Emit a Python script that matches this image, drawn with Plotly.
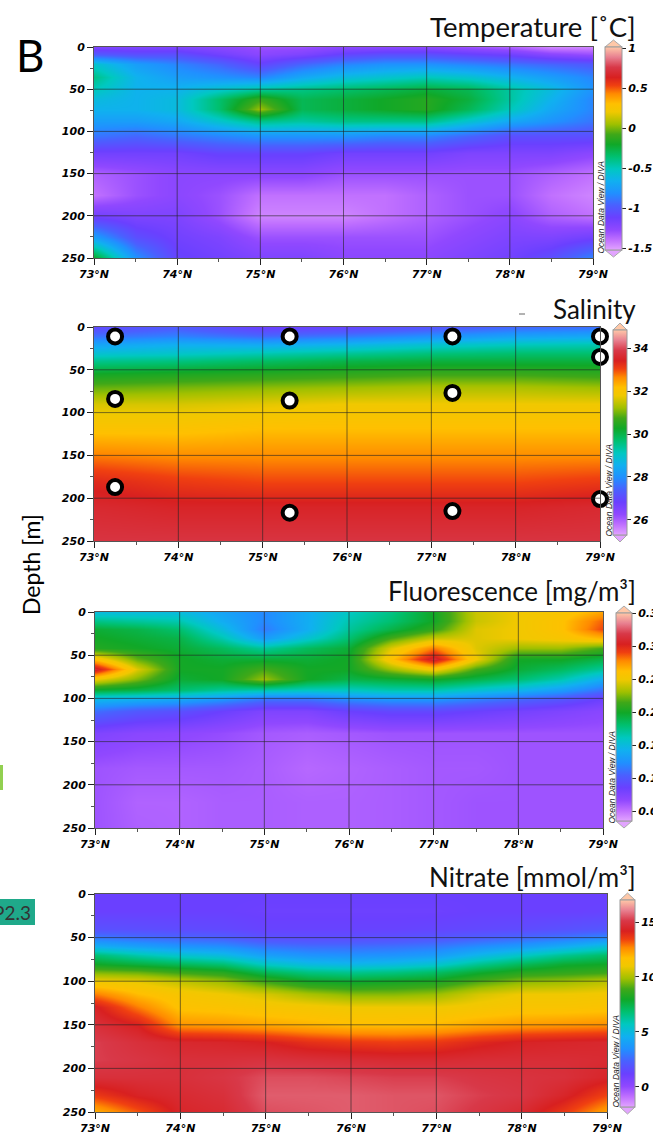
import numpy as np
import plotly.graph_objects as go

W, H = 653, 1139

# ---------------- data ----------------
lat_t = [73, 73.5, 74, 74.5, 75, 75.5, 76, 76.5, 77, 77.5, 78, 78.5, 79]
depth_t = [0, 8, 20, 35, 50, 62, 74, 88, 105, 125, 150, 175, 200, 225, 250]
temp = [
    [-1.2, -1.2, -1.2, -1.25, -1.3, -1.3, -1.25, -1.25, -1.25, -1.3, -1.35, -1.45, -1.45],
    [-1.0, -1.05, -1.05, -1.15, -1.25, -1.2, -1.1, -1.05, -1.05, -1.1, -1.15, -1.25, -1.3],
    [-0.55, -0.75, -0.85, -0.95, -1.1, -0.95, -0.85, -0.8, -0.8, -0.85, -0.9, -0.95, -1.0],
    [-0.4, -0.65, -0.75, -0.8, -0.85, -0.7, -0.6, -0.55, -0.5, -0.55, -0.65, -0.75, -0.85],
    [-0.5, -0.65, -0.65, -0.55, -0.45, -0.4, -0.35, -0.3, -0.25, -0.3, -0.45, -0.6, -0.8],
    [-0.6, -0.65, -0.6, -0.35, -0.1, -0.3, -0.25, -0.2, -0.15, -0.25, -0.45, -0.65, -0.85],
    [-0.65, -0.65, -0.6, -0.35, 0.05, -0.3, -0.25, -0.2, -0.15, -0.3, -0.5, -0.7, -0.85],
    [-0.75, -0.75, -0.7, -0.55, -0.4, -0.45, -0.4, -0.4, -0.4, -0.55, -0.7, -0.8, -0.9],
    [-0.9, -0.95, -0.9, -0.85, -0.8, -0.8, -0.8, -0.85, -0.85, -0.95, -1.05, -1.05, -1.05],
    [-1.15, -1.15, -1.15, -1.1, -1.1, -1.1, -1.15, -1.15, -1.15, -1.2, -1.2, -1.2, -1.25],
    [-1.35, -1.3, -1.25, -1.25, -1.25, -1.25, -1.3, -1.3, -1.3, -1.3, -1.3, -1.35, -1.4],
    [-1.4, -1.3, -1.25, -1.3, -1.4, -1.4, -1.4, -1.4, -1.35, -1.3, -1.3, -1.4, -1.45],
    [-1.15, -1.2, -1.2, -1.3, -1.45, -1.45, -1.45, -1.4, -1.35, -1.3, -1.25, -1.35, -1.4],
    [-0.75, -1.05, -1.15, -1.2, -1.3, -1.3, -1.3, -1.3, -1.3, -1.25, -1.2, -1.2, -1.15],
    [-0.2, -0.8, -1.1, -1.15, -1.2, -1.2, -1.25, -1.25, -1.25, -1.2, -1.15, -1.05, -0.85],
]

lat_s = [73, 74, 75, 76, 77, 78, 79]
depth_s = [0, 10, 20, 30, 40, 55, 70, 90, 120, 150, 180, 210, 250]
sal = [
    [27.0, 27.3, 26.8, 26.9, 27.2, 27.5, 27.6],
    [27.6, 27.8, 27.5, 27.7, 28.0, 28.3, 28.4],
    [28.3, 28.5, 28.4, 28.6, 28.9, 29.1, 29.2],
    [28.9, 29.0, 29.2, 29.4, 29.6, 29.7, 29.7],
    [29.5, 29.6, 29.8, 30.0, 30.1, 30.1, 30.1],
    [30.3, 30.4, 30.5, 30.6, 30.7, 30.7, 30.6],
    [30.9, 31.0, 31.1, 31.2, 31.3, 31.3, 31.2],
    [31.6, 31.6, 31.7, 31.8, 31.8, 31.8, 31.8],
    [32.1, 32.1, 32.2, 32.2, 32.2, 32.2, 32.2],
    [32.7, 32.6, 32.6, 32.6, 32.6, 32.6, 32.6],
    [33.3, 33.1, 33.0, 33.0, 33.0, 33.0, 33.1],
    [33.6, 33.5, 33.5, 33.5, 33.5, 33.5, 33.6],
    [33.8, 33.8, 33.8, 33.8, 33.8, 33.8, 33.8],
]

station_lat = [73.25, 75.32, 77.25, 79.0, 79.0, 73.25, 75.32, 77.25, 73.25, 75.32, 77.25, 79.0]
station_depth = [11, 11, 11, 11, 35, 84, 86, 77, 187, 217, 215, 201]

lat_f = [73, 73.5, 74, 74.5, 75, 75.5, 76, 76.5, 77, 77.5, 78, 78.5, 79]
depth_f = [0, 10, 20, 30, 42, 54, 66, 78, 90, 100, 115, 140, 180, 220, 250]
fluo = [
    [0.150, 0.150, 0.150, 0.135, 0.120, 0.140, 0.160, 0.175, 0.200, 0.240, 0.250, 0.255, 0.270],
    [0.175, 0.170, 0.165, 0.140, 0.120, 0.140, 0.165, 0.180, 0.200, 0.240, 0.250, 0.260, 0.285],
    [0.195, 0.190, 0.180, 0.150, 0.115, 0.140, 0.170, 0.190, 0.210, 0.245, 0.250, 0.260, 0.290],
    [0.200, 0.195, 0.190, 0.165, 0.130, 0.155, 0.180, 0.215, 0.240, 0.245, 0.250, 0.255, 0.265],
    [0.205, 0.200, 0.195, 0.185, 0.170, 0.185, 0.195, 0.245, 0.280, 0.245, 0.230, 0.230, 0.215],
    [0.260, 0.220, 0.200, 0.195, 0.195, 0.195, 0.200, 0.260, 0.310, 0.250, 0.200, 0.200, 0.190],
    [0.310, 0.245, 0.200, 0.200, 0.215, 0.200, 0.200, 0.230, 0.255, 0.215, 0.195, 0.185, 0.170],
    [0.250, 0.225, 0.195, 0.200, 0.230, 0.200, 0.190, 0.195, 0.200, 0.190, 0.180, 0.165, 0.140],
    [0.195, 0.190, 0.180, 0.170, 0.165, 0.160, 0.160, 0.165, 0.165, 0.155, 0.145, 0.130, 0.110],
    [0.150, 0.145, 0.140, 0.130, 0.115, 0.115, 0.125, 0.130, 0.130, 0.120, 0.110, 0.100, 0.085],
    [0.110, 0.100, 0.095, 0.085, 0.075, 0.075, 0.085, 0.090, 0.090, 0.085, 0.080, 0.075, 0.070],
    [0.075, 0.070, 0.068, 0.065, 0.060, 0.058, 0.060, 0.062, 0.062, 0.062, 0.062, 0.062, 0.062],
    [0.062, 0.060, 0.060, 0.060, 0.058, 0.054, 0.056, 0.058, 0.060, 0.060, 0.062, 0.062, 0.062],
    [0.062, 0.056, 0.056, 0.058, 0.058, 0.057, 0.057, 0.058, 0.060, 0.062, 0.062, 0.062, 0.062],
    [0.062, 0.057, 0.056, 0.058, 0.058, 0.057, 0.057, 0.058, 0.060, 0.062, 0.062, 0.062, 0.062],
]

lat_n = [73, 73.5, 74, 74.5, 75, 75.5, 76, 76.5, 77, 77.5, 78, 78.5, 79]
depth_n = [0, 20, 40, 50, 60, 70, 80, 90, 100, 115, 130, 150, 170, 190, 210, 230, 250]
# one profile per latitude (columns of the section)
nitrate_profiles = [
    [1.2, 1.2, 1.8, 3.0, 4.5, 6.8, 8.0, 9.5, 11.0, 12.8, 14.3, 14.8, 15.2, 15.2, 14.8, 13.6, 12.0],
    [1.2, 1.2, 1.7, 2.7, 4.0, 6.0, 7.6, 9.3, 10.8, 11.8, 12.8, 14.2, 14.8, 15.0, 14.8, 14.3, 13.2],
    [1.2, 1.2, 1.6, 2.5, 3.6, 5.4, 7.2, 8.8, 10.3, 11.3, 11.6, 12.5, 14.5, 14.8, 14.8, 14.6, 14.4],
    [1.2, 1.2, 1.5, 2.3, 3.4, 5.0, 6.8, 8.4, 9.8, 11.0, 11.5, 12.4, 14.4, 14.8, 15.0, 14.8, 14.6],
    [1.2, 1.1, 1.3, 1.8, 2.8, 4.0, 5.6, 7.2, 8.8, 10.6, 11.3, 12.2, 14.2, 14.9, 15.4, 15.6, 15.4],
    [1.2, 1.1, 1.3, 1.7, 2.6, 3.6, 5.0, 6.6, 8.0, 10.0, 11.2, 12.0, 13.8, 14.8, 15.4, 15.6, 15.5],
    [1.2, 1.1, 1.3, 1.7, 2.6, 3.5, 4.8, 6.4, 7.8, 9.6, 11.0, 11.8, 13.6, 14.7, 15.3, 15.6, 15.6],
    [1.2, 1.1, 1.3, 1.8, 2.7, 3.6, 5.0, 6.6, 8.0, 9.6, 11.0, 11.8, 13.5, 14.6, 15.2, 15.5, 15.5],
    [1.2, 1.1, 1.4, 2.0, 2.9, 3.9, 5.4, 7.0, 8.2, 9.8, 11.0, 11.9, 13.6, 14.6, 15.2, 15.5, 15.4],
    [1.2, 1.2, 1.5, 2.3, 3.4, 4.8, 6.4, 7.8, 9.0, 10.6, 11.2, 12.2, 14.0, 14.7, 15.0, 15.2, 15.0],
    [1.2, 1.2, 1.6, 2.6, 3.8, 5.6, 7.2, 8.4, 9.6, 11.0, 11.4, 12.4, 14.3, 14.7, 14.9, 15.0, 14.6],
    [1.2, 1.2, 1.8, 2.9, 4.4, 6.4, 7.8, 8.6, 9.8, 11.0, 11.4, 12.5, 14.4, 14.7, 14.8, 14.4, 13.6],
    [1.2, 1.3, 2.0, 3.4, 5.2, 7.0, 8.0, 8.8, 10.2, 11.1, 11.5, 12.6, 14.5, 14.6, 14.4, 13.4, 12.2],
]

titles = ["Temperature [˚C]", "Salinity", "Fluorescence [mg/m³]", "Nitrate [mmol/m³]"]
cb_ticks = [
    [-1.5, -1, -0.5, 0, 0.5, 1],
    [26, 28, 30, 32, 34],
    [0.05, 0.1, 0.15, 0.2, 0.25, 0.3, 0.35],
    [0, 5, 10, 15],
]
cb_ticktext = [
    ["-1.5", "-1", "-0.5", "0", "0.5", "1"],
    ["26", "28", "30", "32", "34"],
    ["0.05", "0.1", "0.15", "0.2", "0.25", "0.3", "0.35"],
    ["0", "5", "10", "15"],
]
cranges = [(-1.525, 1.0125), (25.3, 34.84), (0.035, 0.35), (-1.82, 17.0)]
lat_ticks = [73, 74, 75, 76, 77, 78, 79]
depth_ticks = [0, 50, 100, 150, 200, 250]

# ---------------- style ----------------
odv = [
    [0.00, '#e2a4ff'], [0.05, '#c070ff'], [0.10, '#9048ff'], [0.16, '#6a40ff'],
    [0.22, '#4a60ff'], [0.28, '#2090ff'], [0.34, '#10b0f0'], [0.40, '#00c8c0'],
    [0.46, '#00c070'], [0.52, '#10a828'], [0.57, '#40a818'], [0.62, '#a0c000'],
    [0.68, '#f0c800'], [0.72, '#ffc000'], [0.77, '#ff8a00'], [0.81, '#f04010'],
    [0.85, '#d82020'], [0.90, '#d83848'], [0.95, '#e88090'], [1.00, '#ffc8a8'],
]

# pixel boxes: plot x0,x1,y0,y1 ; colourbar left, width, top, bottom ; title centre y, size
panels = [
    dict(x0=94, x1=593, y0=47, y1=258, cbx=605, cbw=17, cbt=47, cbb=250, ty=26, ts=27.5),
    dict(x0=94, x1=600, y0=327, y1=541, cbx=613, cbw=14, cbt=330, cbb=535, ty=309, ts=26),
    dict(x0=95, x1=603, y0=612, y1=828, cbx=616, cbw=16, cbt=613, cbb=821, ty=591, ts=26),
    dict(x0=95, x1=607, y0=894, y1=1112, cbx=620, cbw=15, cbt=900, cbb=1107, ty=877, ts=26),
]

tickfont = dict(family='DejaVu Sans', size=11, color='black', weight='bold', style='italic')

fields = [
    (lat_t, depth_t, np.array(temp)),
    (lat_s, depth_s, np.array(sal)),
    (lat_f, depth_f, np.array(fluo)),
    (lat_n, depth_n, np.array(nitrate_profiles).T),
]

fig = go.Figure()
shapes = []
annotations = []

for i, (p, (xs, ys, z)) in enumerate(zip(panels, fields)):
    n = '' if i == 0 else str(i + 1)
    xa, ya = 'x' + n, 'y' + n
    cmin, cmax = cranges[i]
    fig.add_trace(go.Heatmap(
        x=xs, y=ys, z=z, xaxis=xa, yaxis=ya, zsmooth='best',
        colorscale=odv, zmin=cmin, zmax=cmax, hoverinfo='skip',
        colorbar=dict(
            x=p['cbx'] / W, xanchor='left', y=1 - p['cbt'] / H, yanchor='top',
            lenmode='pixels', len=p['cbb'] - p['cbt'],
            thicknessmode='pixels', thickness=p['cbw'],
            xpad=0, ypad=0, outlinewidth=1, outlinecolor='#999',
            tickmode='array', tickvals=cb_ticks[i], ticktext=cb_ticktext[i],
            ticks='outside', ticklen=4, tickcolor='#222', tickfont=tickfont,
        ),
    ))
    dom_x = [p['x0'] / W, p['x1'] / W]
    dom_y = [1 - p['y1'] / H, 1 - p['y0'] / H]
    fig.layout['xaxis' + n] = dict(
        domain=dom_x, anchor=ya, range=[73, 79], tickmode='linear', tick0=73, dtick=1,
        ticksuffix='°N', ticks='outside', ticklen=6, tickcolor='#222',
        tickfont=tickfont, showgrid=False, zeroline=False, showline=True,
        linecolor='#555', linewidth=1, mirror=True, layer='above traces',
        minor=dict(dtick=0.5, tick0=73, ticks='outside', ticklen=3, tickcolor='#555', showgrid=False),
    )
    fig.layout['yaxis' + n] = dict(
        domain=dom_y, anchor=xa, range=[250, 0], tickmode='linear', tick0=0, dtick=50,
        ticks='outside', ticklen=6, tickcolor='#222', tickfont=tickfont,
        showgrid=False, zeroline=False, showline=True, linecolor='#555',
        linewidth=1, mirror=True, layer='above traces',
        minor=dict(dtick=25, tick0=0, ticks='outside', ticklen=3, tickcolor='#555', showgrid=False),
    )
    # grid lines drawn above the field
    for lv in lat_ticks[1:-1]:
        shapes.append(dict(type='line', xref=xa, yref=ya, x0=lv, x1=lv, y0=0, y1=250,
                           line=dict(color='rgba(35,35,35,0.6)', width=1), layer='above'))
    for dv in depth_ticks[1:-1]:
        shapes.append(dict(type='line', xref=xa, yref=ya, x0=73, x1=79, y0=dv, y1=dv,
                           line=dict(color='rgba(35,35,35,0.6)', width=1), layer='above'))
    # colourbar arrow ends
    bx0, bx1 = p['cbx'] / W, (p['cbx'] + p['cbw']) / W
    bxc = (bx0 + bx1) / 2
    yt, yb = 1 - p['cbt'] / H, 1 - p['cbb'] / H
    shapes.append(dict(type='path', xref='paper', yref='paper',
                       path=f"M {bx0},{yt} L {bx1},{yt} L {bxc},{yt + 7 / H} Z",
                       fillcolor='#ffc8a8', line=dict(color='#aaa', width=1)))
    shapes.append(dict(type='path', xref='paper', yref='paper',
                       path=f"M {bx0},{yb} L {bx1},{yb} L {bxc},{yb - 7 / H} Z",
                       fillcolor='#e2a4ff', line=dict(color='#aaa', width=1)))
    # ODV credit
    annotations.append(dict(text='Ocean Data View / DIVA', x=(p['cbx'] - 5) / W, y=1 - (p['y1'] - 2) / H,
                            xref='paper', yref='paper', xanchor='center', yanchor='bottom',
                            textangle=-90, showarrow=False,
                            font=dict(family='Liberation Sans', size=8.5, color='#222', style='italic')))
    # title
    annotations.append(dict(text=titles[i], x=638 / W, y=1 - p['ty'] / H, xref='paper', yref='paper',
                            xanchor='right', yanchor='middle', showarrow=False,
                            font=dict(family='Lato', size=p['ts'], color='#111')))

# salinity sampling stations
fig.add_trace(go.Scatter(
    x=station_lat, y=station_depth, xaxis='x2', yaxis='y2', mode='markers',
    marker=dict(symbol='circle', size=14, color='white', line=dict(color='black', width=4)),
    cliponaxis=False, hoverinfo='skip', showlegend=False,
))

annotations += [
    dict(text='B', x=14 / W, y=1 - 55 / H, xref='paper', yref='paper', xanchor='left',
         yanchor='middle', showarrow=False, font=dict(family='Lato', size=44, color='black')),
    dict(text='Depth [m]', x=31 / W, y=1 - 565 / H, xref='paper', yref='paper', xanchor='center',
         yanchor='middle', textangle=-90, showarrow=False, font=dict(family='Lato', size=23, color='black')),
    dict(text='P2.3', x=33 / W, y=1 - 912 / H, xref='paper', yref='paper', xanchor='right',
         yanchor='middle', showarrow=False, font=dict(family='Lato', size=19, color='#333')),
]
shapes += [
    dict(type='rect', xref='paper', yref='paper', x0=-0.01, x1=3 / W, y0=1 - 790 / H, y1=1 - 765 / H,
         fillcolor='#92d050', line=dict(width=0), layer='below'),
    dict(type='rect', xref='paper', yref='paper', x0=-0.01, x1=35 / W, y0=1 - 925 / H, y1=1 - 899 / H,
         fillcolor='#1fa98a', line=dict(width=0), layer='below'),
    dict(type='line', xref='paper', yref='paper', x0=519 / W, x1=525 / W, y0=1 - 314 / H, y1=1 - 314 / H,
         line=dict(color='#666', width=1)),
]

fig.update_layout(
    width=W, height=H, margin=dict(l=0, r=0, t=0, b=0, autoexpand=False),
    paper_bgcolor='white', plot_bgcolor='white', showlegend=False,
    shapes=shapes, annotations=annotations,
)

fig.write_html("out.html", config={'displayModeBar': False},
               post_script="document.body.style.margin='0px';")
